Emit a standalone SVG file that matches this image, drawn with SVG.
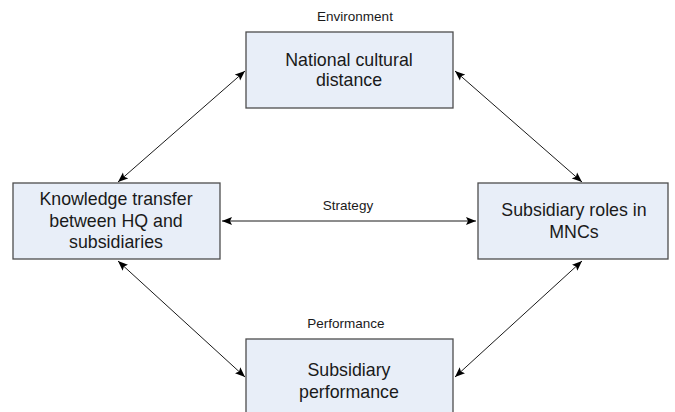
<svg xmlns="http://www.w3.org/2000/svg" width="675" height="412" viewBox="0 0 675 412">
<style>
.box{fill:#e8eef8;stroke:#4d4d4d;stroke-width:1.3}
.t{font-family:"Liberation Sans",Arial,sans-serif;font-size:17.8px;fill:#1a1a1a;text-anchor:middle}
.l{font-family:"Liberation Sans",Arial,sans-serif;font-size:13.5px;fill:#1a1a1a;text-anchor:middle}
.c{stroke:#1a1a1a;stroke-width:1;fill:none;marker-start:url(#a);marker-end:url(#a)}
</style>
<defs>
<marker id="a" viewBox="0 0 10 10" refX="10" refY="5" markerWidth="10" markerHeight="10" markerUnits="userSpaceOnUse" orient="auto-start-reverse">
<path d="M0,1 L10,5 L0,9 L2,5 Z" fill="#000"/>
</marker>
</defs>
<rect width="675" height="412" fill="#fff"/>
<g id="connectors">
<line class="c" x1="118" y1="182" x2="245" y2="71"/>
<line class="c" x1="455" y1="71" x2="582" y2="182"/>
<line class="c" x1="222" y1="221" x2="476" y2="221"/>
<line class="c" x1="118" y1="261" x2="245" y2="377"/>
<line class="c" x1="582" y1="261" x2="455" y2="377"/>
</g>
<g id="label-environment"><text class="l" x="355" y="21">Environment</text></g>
<g id="label-strategy"><text class="l" x="348" y="210">Strategy</text></g>
<g id="label-performance"><text class="l" x="346" y="328">Performance</text></g>
<g id="node-culture">
<rect class="box" x="246" y="32" width="207" height="76"/>
<text class="t" x="349" y="66">National cultural</text>
<text class="t" x="349" y="86">distance</text>
</g>
<g id="node-knowledge">
<rect class="box" x="13" y="183" width="207" height="76"/>
<text class="t" x="116" y="205">Knowledge transfer</text>
<text class="t" x="116" y="227">between HQ and</text>
<text class="t" x="116" y="248">subsidiaries</text>
</g>
<g id="node-roles">
<rect class="box" x="478" y="183" width="190" height="76"/>
<text class="t" x="574" y="216">Subsidiary roles in</text>
<text class="t" x="574" y="238">MNCs</text>
</g>
<g id="node-performance">
<rect class="box" x="246" y="339" width="207" height="80"/>
<text class="t" x="349" y="376">Subsidiary</text>
<text class="t" x="349" y="398">performance</text>
</g>
</svg>
